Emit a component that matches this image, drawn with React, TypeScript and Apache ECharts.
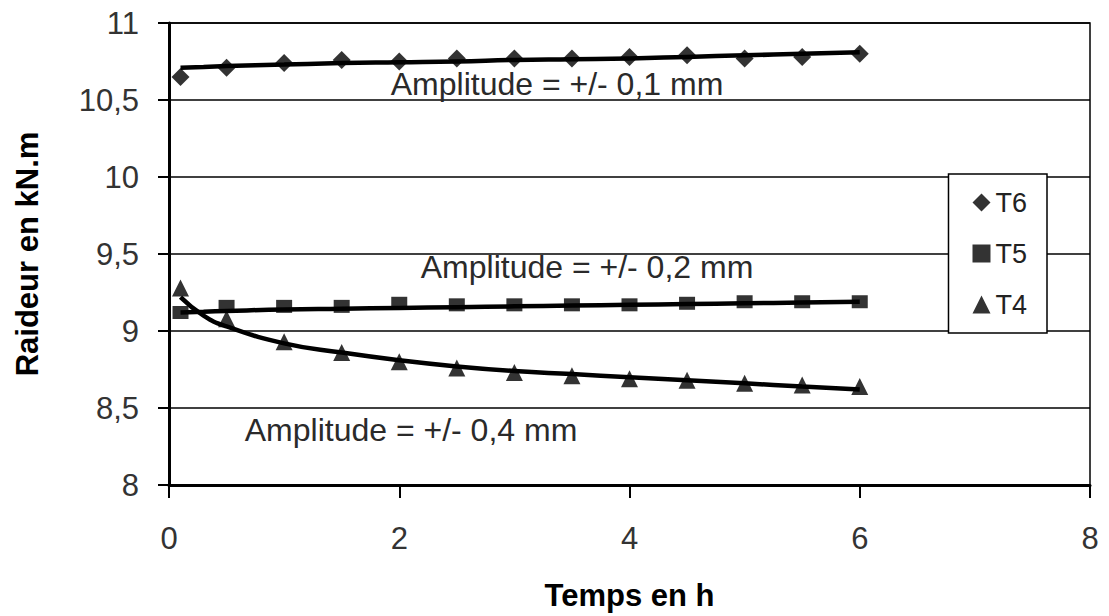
import React, { useEffect, useRef } from "react";
import * as echarts from "echarts";

const timeH = [0.1, 0.5, 1, 1.5, 2, 2.5, 3, 3.5, 4, 4.5, 5, 5.5, 6];
const t6Values = [10.65, 10.71, 10.74, 10.76, 10.75, 10.77, 10.77, 10.77, 10.78, 10.79, 10.77, 10.78, 10.8];
const t5Values = [9.12, 9.16, 9.16, 9.16, 9.18, 9.17, 9.17, 9.17, 9.17, 9.18, 9.19, 9.19, 9.19];
const t4Values = [9.28, 9.08, 8.93, 8.86, 8.8, 8.76, 8.73, 8.71, 8.69, 8.68, 8.66, 8.65, 8.64];

const trendTime = [0.1, 0.3, 0.5, 1, 1.5, 2, 2.5, 3, 3.5, 4, 4.5, 5, 5.5, 6];
const t6Trend = [10.71, 10.715, 10.72, 10.73, 10.74, 10.745, 10.75, 10.76, 10.765, 10.77, 10.78, 10.79, 10.8, 10.81];
const t5Trend = [9.12, 9.125, 9.13, 9.14, 9.145, 9.15, 9.155, 9.16, 9.165, 9.17, 9.175, 9.18, 9.185, 9.19];
const t4Trend = [9.22, 9.1, 9.03, 8.92, 8.86, 8.81, 8.77, 8.74, 8.72, 8.7, 8.68, 8.66, 8.64, 8.62];

const seriesNames = ["T6", "T5", "T4"];
const seriesSymbols = ["diamond", "rect", "triangle"];
const annotations = ["Amplitude = +/- 0,1 mm", "Amplitude = +/- 0,2 mm", "Amplitude = +/- 0,4 mm"];

const yTicks = { min: 8, max: 11, interval: 0.5 };
const xTicks = { min: 0, max: 8, interval: 2 };

const FONT = "'Liberation Sans', Arial, sans-serif";

export default function App() {
  const ref = useRef<HTMLDivElement>(null);
  useEffect(() => {
    if (!ref.current) return;
    const chart = echarts.init(ref.current, undefined, { renderer: "svg" });
    const pair = (xs: number[], ys: number[]) => xs.map((x, i) => [x, ys[i]]);
    const values = [t6Values, t5Values, t4Values];
    const trends = [t6Trend, t5Trend, t4Trend];
    const symbolSizes: any[] = [[18, 18], [16, 13], [17, 17]];
    const series: any[] = [];
    trends.forEach((tr, i) => {
      series.push({
        name: seriesNames[i] + " tendance",
        type: "line",
        data: pair(trendTime, tr),
        symbol: "none",
        smooth: true,
        lineStyle: { color: "#000", width: 4.5 },
        z: 3,
      });
    });
    values.forEach((v, i) => {
      series.push({
        name: seriesNames[i],
        type: "scatter",
        data: pair(timeH, v),
        symbol: seriesSymbols[i],
        symbolSize: symbolSizes[i],
        itemStyle: { color: "#000" },
        z: 4,
      });
    });
    const annotText = (text: string, x: number, y: number) => ({
      type: "text",
      x,
      y,
      style: {
        text,
        fill: "#2a2a2a",
        font: `32px ${FONT}`,
        textAlign: "center",
        textVerticalAlign: "middle",
      },
      z: 10,
    });
    chart.setOption({
      animation: false,
      backgroundColor: "#fff",
      grid: {
        left: 169,
        top: 23,
        right: 19,
        bottom: 131,
        show: true,
        borderColor: "#000",
        borderWidth: 1.5,
      },
      legend: {
        orient: "vertical",
        right: 62,
        top: 174,
        data: seriesNames.map((n, i) => ({ name: n, icon: seriesSymbols[i] })),
        itemWidth: 18,
        itemHeight: 18,
        itemGap: 24,
        borderColor: "#000",
        borderWidth: 1.5,
        backgroundColor: "#fff",
        padding: [15, 20, 15, 24],
        itemStyle: { color: "#000" },
        textStyle: { fontSize: 27, color: "#222", fontFamily: FONT },
      },
      xAxis: {
        type: "value",
        min: xTicks.min,
        max: xTicks.max,
        interval: xTicks.interval,
        name: "Temps en h",
        nameLocation: "middle",
        nameGap: 95,
        nameTextStyle: { fontSize: 31, fontWeight: "bold", color: "#000", fontFamily: FONT },
        axisLine: { lineStyle: { color: "#000", width: 3 } },
        axisTick: { show: true, length: 13, lineStyle: { color: "#000", width: 2 } },
        axisLabel: { fontSize: 31, color: "#333", margin: 38, fontFamily: FONT },
        splitLine: { show: false },
      },
      yAxis: {
        type: "value",
        min: yTicks.min,
        max: yTicks.max,
        interval: yTicks.interval,
        name: "Raideur en kN.m",
        nameLocation: "middle",
        nameGap: 126,
        nameRotate: 90,
        nameTextStyle: { fontSize: 31, fontWeight: "bold", color: "#000", fontFamily: FONT },
        axisLine: { show: true, lineStyle: { color: "#000", width: 3 } },
        axisTick: { show: true, length: 11, lineStyle: { color: "#000", width: 2 } },
        axisLabel: {
          fontSize: 31,
          color: "#333",
          margin: 30,
          fontFamily: FONT,
          formatter: (v: number) => String(v).replace(".", ","),
        },
        splitLine: { show: true, lineStyle: { color: "#000", width: 1.5 } },
      },
      graphic: [
        annotText(annotations[0], 557, 84),
        annotText(annotations[1], 587, 267),
        annotText(annotations[2], 411, 430),
      ],
      series,
    });
    return () => chart.dispose();
  }, []);
  return <div ref={ref} style={{ width: 1109, height: 616, position: "absolute", left: 0, top: 0 }} />;
}
